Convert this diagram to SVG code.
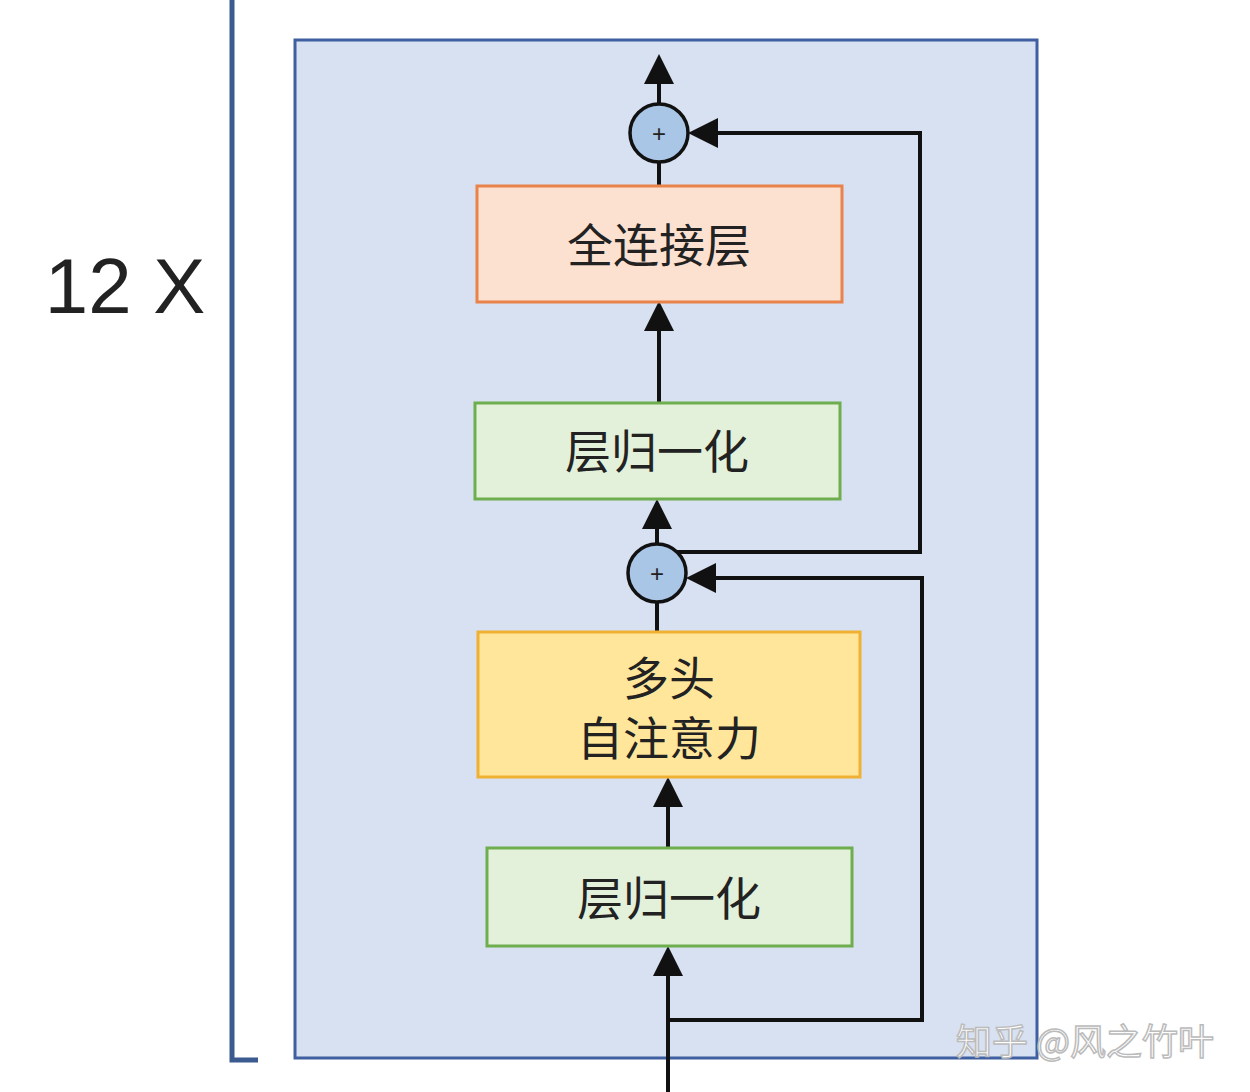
<svg xmlns="http://www.w3.org/2000/svg" width="1250" height="1092" viewBox="0 0 1250 1092">
<style>
.c{stroke:#111;stroke-width:4;fill:none}
.t{font-family:"Noto Sans CJK SC",sans-serif;font-size:46px;fill:#222;text-anchor:middle}
.ci{fill:#a9c6e6;stroke:#111;stroke-width:3.5}
.p{font-family:"Liberation Sans",sans-serif;font-size:24px;fill:#222;text-anchor:middle}
</style>
<defs>
<marker id="a" markerUnits="userSpaceOnUse" markerWidth="32" markerHeight="32" refX="26" refY="15" orient="auto"><path d="M0,0 L30,15 L0,30 Z" fill="#111"/></marker>
</defs>
<rect width="1250" height="1092" fill="#fff"/>
<g id="bracket"><path d="M232,0 V1060 H258" stroke="#3b5a8f" stroke-width="5" fill="none"/>
<text x="125" y="313" font-family="Liberation Sans,sans-serif" font-size="78" fill="#222" text-anchor="middle">12 X</text></g>
<g id="block"><rect x="295" y="40" width="742" height="1018" fill="#d7e1f1" stroke="#3f5fa0" stroke-width="3"/></g>
<g id="connectors">
<path class="c" d="M659,104 V58" marker-end="url(#a)"/>
<path class="c" d="M659,162 V186"/>
<path class="c" d="M659,403 V305" marker-end="url(#a)"/>
<path class="c" d="M657,544 V503" marker-end="url(#a)"/>
<path class="c" d="M657,602 V632"/>
<path class="c" d="M668,848 V781" marker-end="url(#a)"/>
<path class="c" d="M668,1092 V950" marker-end="url(#a)"/>
<path class="c" d="M668,1020 H922 V578 H690" marker-end="url(#a)"/>
<path class="c" d="M670,552 H920 V133 H692" marker-end="url(#a)"/>
</g>
<g id="add1"><circle class="ci" cx="659" cy="133" r="29"/><text class="p" x="659" y="142">+</text></g>
<g id="ffn"><rect x="477" y="186" width="365" height="116" fill="#fce0d0" stroke="#e9834b" stroke-width="3"/><text class="t" x="659" y="262">全连接层</text></g>
<g id="ln1"><rect x="475" y="403" width="365" height="96" fill="#e3f0da" stroke="#6fae4e" stroke-width="3"/><text class="t" x="657" y="468">层归一化</text></g>
<g id="add2"><circle class="ci" cx="657" cy="573" r="29"/><text class="p" x="657" y="582">+</text></g>
<g id="mha"><rect x="478" y="632" width="382" height="145" fill="#ffe69a" stroke="#f0b133" stroke-width="3"/><text class="t" x="669" y="695" font-size="42">多头</text><text class="t" x="669" y="755" font-size="42">自注意力</text></g>
<g id="ln2"><rect x="487" y="848" width="365" height="98" fill="#e3f0da" stroke="#6fae4e" stroke-width="3"/><text class="t" x="669" y="915">层归一化</text></g>
<g id="wm"><text x="1085" y="1055" font-family="Noto Sans CJK SC,sans-serif" font-size="36" fill="#fff" stroke="#bbb" stroke-width="1.5" text-anchor="middle">知乎 @风之竹叶</text></g>
</svg>
